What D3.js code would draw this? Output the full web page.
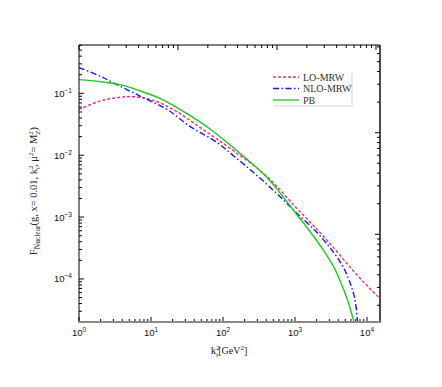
<!DOCTYPE html>
<html>
<head>
<meta charset="utf-8">
<script src="https://cdn.jsdelivr.net/npm/d3@7"></script>
<style>
  html, body { margin: 0; padding: 0; background: #fff; }
  svg { display: block; }
</style>
</head>
<body>
<svg id="chart" width="442" height="387"></svg>
<script>
'use strict';

// ── Data (k_t^2 in GeV^2, F) ─────────────────────────────
const loMRW = [
  [1, 0.0551], [1.957, 0.0750], [3.372, 0.0852], [5.62, 0.0884], [9.68, 0.0800],
  [20.2, 0.0551], [47.9, 0.0282], [138, 0.01196], [408, 0.00454], [1033, 0.00143],
  [2224, 5.63e-4], [3831, 2.77e-4], [6390, 1.367e-4], [10000, 7.82e-5], [15160, 4.82e-5]
];
const nloMRW = [
  [1, 0.2606], [1.957, 0.1905], [2.966, 0.1490], [7.03, 0.0904], [16.7, 0.0551],
  [34.8, 0.0292], [82.5, 0.0161], [138, 0.00993], [237, 0.00589], [408, 0.00337],
  [681, 0.001926], [1033, 0.001187], [2021, 5.63e-4], [3372, 2.77e-4], [4642, 1.587e-4],
  [5805, 8.74e-5], [6813, 4.64e-5], [7380, 2.04e-5]
];
const pb = [
  [1, 0.1666], [1.957, 0.1547], [3.71, 0.1383], [7.03, 0.1098], [13.3, 0.0830],
  [25.3, 0.0551], [66.0, 0.0266], [138, 0.01337], [408, 0.00437], [1033, 0.001144],
  [1616, 5.85e-4], [2448, 2.99e-4], [3372, 1.65e-4], [4217, 9.42e-5], [5275, 4.82e-5],
  [6592, 2.04e-5]
];
const xTickValues = [1, 10, 100, 1000, 10000];
const xTickExps = ['0', '1', '2', '3', '4'];
const yTickValues = [1e-1, 1e-2, 1e-3, 1e-4];
const yTickExps = ['\u22121', '\u22122', '\u22123', '\u22124'];
const seriesNames = ['LO-MRW', 'NLO-MRW', 'PB'];

// ── Layout ────────────────────────────────────────────────
const L = 79, R = 380, T = 45, B = 322;
const svg = d3.select('#chart');

const x = d3.scaleLog().domain([1, Math.pow(10, 4.181)]).range([L, R]);
const y = d3.scaleLog().domain([Math.pow(10, -4.696), Math.pow(10, -0.218)]).range([B, T]);
// mirrored axes in the original don't line up with the main ones
const xTop = d3.scaleLog().domain([1, Math.pow(10, 301 / 99)]).range([L, R]);
const yRight = d3.scaleLog().domain([Math.pow(10, -1.863), Math.pow(10, 0.863)]).range([B, T]);

function logTicks(scale) {
  const [a, b] = scale.domain();
  const out = [];
  for (let e = Math.floor(Math.log10(a)); e <= Math.ceil(Math.log10(b)); e++) {
    for (let m = 1; m <= 9; m++) {
      const v = m * Math.pow(10, e);
      if (v >= a * 0.9999 && v <= b * 1.0001) out.push({ v, major: m === 1 });
    }
  }
  return out;
}

// ── Curves ────────────────────────────────────────────────
svg.append('clipPath').attr('id', 'clip')
  .append('rect').attr('x', L).attr('y', T).attr('width', R - L).attr('height', B - T);

const line = d3.line()
  .x(d => x(d[0]))
  .y(d => y(d[1]))
  .curve(d3.curveCatmullRom.alpha(0.5));

const styles = [
  { data: loMRW,  color: '#ec2d7f', dash: '3,2' },
  { data: nloMRW, color: '#1515f5', dash: '6,2.5,1.5,2.5' },
  { data: pb,     color: '#18cc18', dash: null }
];

const curves = svg.append('g').attr('clip-path', 'url(#clip)');
styles.forEach(s => {
  curves.append('path')
    .datum(s.data)
    .attr('d', line)
    .attr('fill', 'none')
    .attr('stroke', s.color)
    .attr('stroke-width', 1.4)
    .attr('stroke-dasharray', s.dash);
});

// ── Frame & ticks ─────────────────────────────────────────
const axes = svg.append('g').attr('stroke', '#000').attr('stroke-width', 1);

logTicks(x).forEach(t => {
  const len = t.major ? 5 : 3;
  axes.append('line').attr('x1', x(t.v)).attr('x2', x(t.v)).attr('y1', B).attr('y2', B - len);
});
logTicks(xTop).forEach(t => {
  const len = t.major ? 5 : 3;
  axes.append('line').attr('x1', xTop(t.v)).attr('x2', xTop(t.v)).attr('y1', T).attr('y2', T + len);
});
logTicks(y).forEach(t => {
  const len = t.major ? 5 : 3;
  axes.append('line').attr('x1', L).attr('x2', L + len).attr('y1', y(t.v)).attr('y2', y(t.v));
});
logTicks(yRight).forEach(t => {
  const len = t.major ? 5 : 3;
  axes.append('line').attr('x1', R).attr('x2', R - len).attr('y1', yRight(t.v)).attr('y2', yRight(t.v));
});

axes.append('line').attr('x1', L).attr('x2', R).attr('y1', T).attr('y2', T);
axes.append('line').attr('x1', L).attr('x2', L).attr('y1', T).attr('y2', B);
axes.append('line').attr('x1', R).attr('x2', R).attr('y1', T).attr('y2', B).attr('stroke-width', 1.4);
svg.append('line').attr('x1', L - 1).attr('x2', R + 1).attr('y1', B).attr('y2', B)
  .attr('stroke', '#8a8a8a').attr('stroke-width', 2);

// ── Tick labels ───────────────────────────────────────────
const tickFont = "'Liberation Sans', Arial, sans-serif";

xTickValues.forEach((v, i) => {
  const t = svg.append('text')
    .attr('x', x(v)).attr('y', 336)
    .attr('text-anchor', 'middle')
    .attr('font-family', tickFont).attr('font-size', 9.5).attr('fill', '#111');
  t.append('tspan').text('10');
  t.append('tspan').attr('dy', -4).attr('font-size', 6.5).text(xTickExps[i]);
});

yTickValues.forEach((v, i) => {
  const t = svg.append('text')
    .attr('x', 72).attr('y', y(v) + 3.5)
    .attr('text-anchor', 'end')
    .attr('font-family', tickFont).attr('font-size', 9.5).attr('fill', '#111');
  t.append('tspan').text('10');
  t.append('tspan').attr('dy', -4).attr('font-size', 6.5).text(yTickExps[i]);
});

// ── Axis titles ───────────────────────────────────────────
const serif = "'Liberation Serif', 'Times New Roman', serif";

const xt = svg.append('text')
  .attr('x', 229).attr('y', 354)
  .attr('text-anchor', 'middle')
  .attr('font-family', serif).attr('font-size', 11).attr('fill', '#222');
xt.append('tspan').text('k');
xt.append('tspan').attr('dy', -4).attr('font-size', 7).text('2');
xt.append('tspan').attr('dx', -3.5).attr('dy', 7).attr('font-size', 7).text('t');
xt.append('tspan').attr('dy', -3).attr('font-size', 10).text('[GeV');
xt.append('tspan').attr('dy', -4).attr('font-size', 7).text('2');
xt.append('tspan').attr('dy', 4).attr('font-size', 10).text(']');

const yt = svg.append('text')
  .attr('transform', 'translate(37,191) rotate(-90)')
  .attr('text-anchor', 'middle')
  .attr('font-family', serif).attr('font-size', 10.5).attr('fill', '#222');
yt.append('tspan').text('F');
yt.append('tspan').attr('dy', 3).attr('font-size', 7.5).text('Nuclear');
yt.append('tspan').attr('dy', -3).text('(g, x= 0.01, k');
yt.append('tspan').attr('dy', -4).attr('font-size', 7).text('2');
yt.append('tspan').attr('dx', -3.5).attr('dy', 7).attr('font-size', 7).text('t');
yt.append('tspan').attr('dy', -3).text(', \u03bc');
yt.append('tspan').attr('dy', -4).attr('font-size', 7).text('2');
yt.append('tspan').attr('dy', 4).text('= M');
yt.append('tspan').attr('dy', -4).attr('font-size', 7).text('2');
yt.append('tspan').attr('dx', -3.5).attr('dy', 7).attr('font-size', 7).text('Z');
yt.append('tspan').attr('dy', -3).text(')');

// ── Legend ────────────────────────────────────────────────
const lg = svg.append('g');
lg.append('polyline')
  .attr('points', '274,106 352,106 352,73')
  .attr('fill', 'none').attr('stroke', '#e2e2e2').attr('stroke-width', 1.5);

seriesNames.forEach((name, i) => {
  const ly = 77 + i * 11.5;
  lg.append('line')
    .attr('x1', 273).attr('x2', 299).attr('y1', ly).attr('y2', ly)
    .attr('stroke', styles[i].color).attr('stroke-width', 1.3)
    .attr('stroke-dasharray', styles[i].dash);
  lg.append('text')
    .attr('x', 303).attr('y', ly + 3.5)
    .attr('font-family', serif).attr('font-size', 10).attr('fill', '#333')
    .text(name);
});
</script>
</body>
</html>
